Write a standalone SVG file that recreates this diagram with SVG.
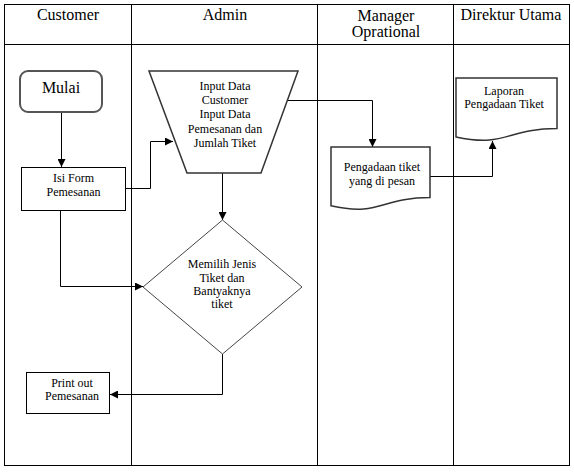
<svg xmlns="http://www.w3.org/2000/svg" width="574" height="474" viewBox="0 0 574 474">
<style>
  .lane { fill: none; stroke: #000; stroke-width: 1; }
  text { font-family: 'Liberation Serif', 'Times New Roman', serif; fill: #000; text-anchor: middle; }
  .hdr { font-size: 16px; }
  .txt { font-size: 12px; }
  .big { font-size: 16px; }
  .box { fill: #fff; stroke: #000; stroke-width: 1; }
  .shape { fill: #fff; stroke: #333; stroke-width: 1.5; }
  .start { fill: #fff; stroke: #555; stroke-width: 2; }
  .dia { fill: #fff; stroke: #444; stroke-width: 1; }
  .conn { fill: none; stroke: #000; stroke-width: 1; marker-end: url(#arr); }
</style>
<defs>
  <marker id="arr" viewBox="0 0 10 10" refX="10" refY="5" markerWidth="8" markerHeight="8" markerUnits="userSpaceOnUse" orient="auto">
    <path d="M0,0 L10,5 L0,10 Z" fill="#000"/>
  </marker>
</defs>
<rect width="574" height="474" fill="#fff"/>
<g id="lanes">
  <rect class="lane" x="4.5" y="4.5" width="565" height="461"/>
  <line class="lane" x1="4.5" y1="44.5" x2="569.5" y2="44.5"/>
  <line class="lane" x1="131.5" y1="4.5" x2="131.5" y2="465.5"/>
  <line class="lane" x1="317.5" y1="4.5" x2="317.5" y2="465.5"/>
  <line class="lane" x1="453.5" y1="4.5" x2="453.5" y2="465.5"/>
  <text class="hdr" x="68" y="20">Customer</text>
  <text class="hdr" x="225" y="20">Admin</text>
  <text class="hdr" x="386" y="21">Manager</text>
  <text class="hdr" x="386" y="37">Oprational</text>
  <text class="hdr" x="511" y="20">Direktur Utama</text>
</g>
<g id="connectors">
  <path class="conn" d="M61.5,112 V167"/>
  <path class="conn" d="M126,188.5 H150.5 V141.5 H173"/>
  <path class="conn" d="M222.5,173 V220"/>
  <path class="conn" d="M60.5,211 V286.5 H143"/>
  <path class="conn" d="M222.5,354 V394.5 H110"/>
  <path class="conn" d="M288,100.5 H372.5 V147"/>
  <path class="conn" d="M430,176.5 H492.5 V141"/>
</g>
<g id="mulai">
  <rect class="start" x="20" y="71" width="82" height="41" rx="8" ry="8"/>
  <text class="big" x="61" y="93">Mulai</text>
</g>
<g id="isi-form">
  <rect class="box" x="21.5" y="167.5" width="104" height="43"/>
  <text class="txt" x="73.5" y="182">Isi Form</text>
  <text class="txt" x="73.5" y="196">Pemesanan</text>
</g>
<g id="input-data">
  <path class="shape" d="M149,71 H298 L261,173 H187 Z"/>
  <text class="txt" x="225" y="90">Input Data</text>
  <text class="txt" x="225" y="104">Customer</text>
  <text class="txt" x="225" y="118">Input Data</text>
  <text class="txt" x="225" y="133">Pemesanan dan</text>
  <text class="txt" x="225" y="147">Jumlah Tiket</text>
</g>
<g id="memilih">
  <path class="dia" d="M222.5,220 L302,287 L222.5,354 L143,287 Z"/>
  <text class="txt" x="222" y="268">Memilih Jenis</text>
  <text class="txt" x="222" y="282">Tiket dan</text>
  <text class="txt" x="222" y="295">Bantyaknya</text>
  <text class="txt" x="222" y="308">tiket</text>
</g>
<g id="print-out">
  <rect class="box" x="26.5" y="372.5" width="83" height="41"/>
  <text class="txt" x="72" y="387">Print out</text>
  <text class="txt" x="72" y="400">Pemesanan</text>
</g>
<g id="pengadaan">
  <path class="shape" d="M331,147 H430 V197.5 C380.5,197.5 380.5,216.8 331,205.8 Z"/>
  <text class="txt" x="382" y="171">Pengadaan tiket</text>
  <text class="txt" x="382" y="185">yang di pesan</text>
</g>
<g id="laporan">
  <path class="shape" d="M456,78 H557 V128.5 C506.5,128.5 506.5,147.8 456,136.9 Z"/>
  <text class="txt" x="504" y="95">Laporan</text>
  <text class="txt" x="504" y="108">Pengadaan Tiket</text>
</g>
</svg>
